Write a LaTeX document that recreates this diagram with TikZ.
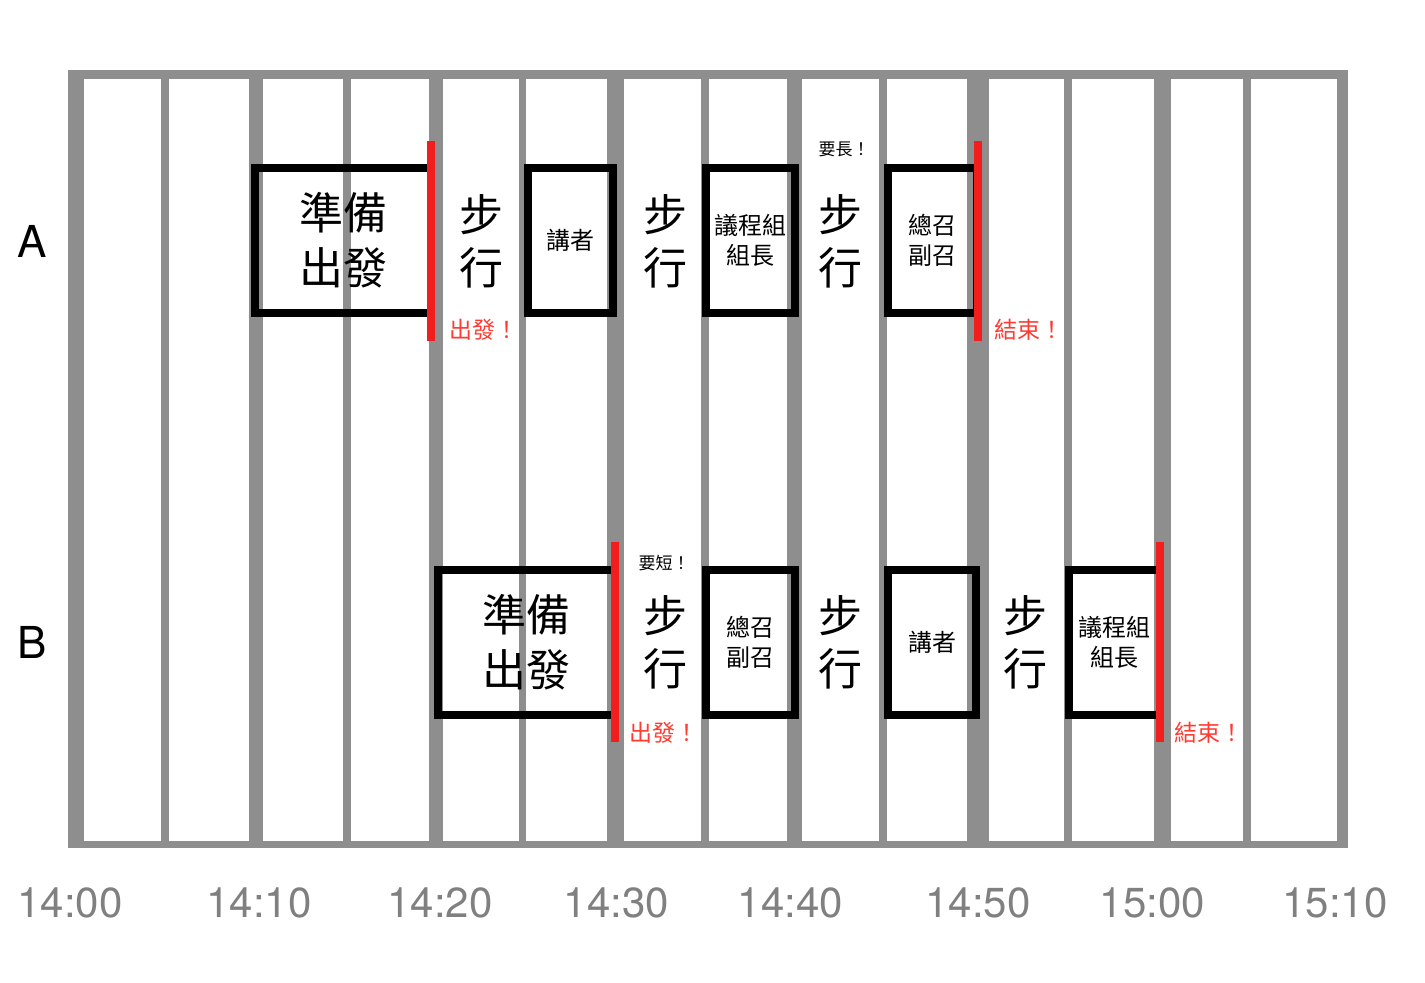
\documentclass[tikz,border=0pt]{standalone}
\usepackage{fontspec}
\setmainfont{TeX Gyre Heros}
\newfontfamily\cjk{Noto Sans CJK TC}
\usepackage{xcolor}
\usepackage{tikz}
\usetikzlibrary{positioning}
\definecolor{gridgray}{RGB}{142,142,142}
\definecolor{timegray}{RGB}{128,128,128}
\definecolor{flagred}{RGB}{242,30,30}
\definecolor{notered}{RGB}{255,58,48}

\begin{document}
\begin{tikzpicture}[x=1pt, y=-1pt,
  task/.style={draw, line width=8pt, inner sep=0pt, minimum height=145pt, align=center,
    font=\cjk\fontsize{24}{30}\selectfont},
  bigtask/.style={task, font=\cjk\fontsize{44}{55}\selectfont},
  walk/.style={align=center, inner sep=0pt, font=\cjk\fontsize{44}{53}\selectfont},
  memo/.style={inner sep=0pt, font=\cjk\fontsize{17}{17}\selectfont},
  flag/.style={inner sep=0pt, anchor=west, text=notered, font=\cjk\fontsize{23}{23}\selectfont},
  rowname/.style={inner sep=0pt, font=\fontsize{44}{44}\selectfont},
  clock/.style={inner sep=0pt, text=timegray, font=\fontsize{42}{42}\selectfont}]
  \useasboundingbox (0,0) rectangle (1425,983);

  % time grid
  \fill[gridgray] (68,70) rectangle (1348,848);
  \foreach \a/\b in {84/160.7, 169/249, 263.3/342.7, 350.7/429.3, 443.3/519.3,
                     526/607.3, 624/700.7, 709/786.7, 802.3/879, 886.7/966.7,
                     989.3/1064, 1072.3/1154, 1170.7/1242.7, 1250.7/1337.3} {
    \fill[white] (\a,79) rectangle (\b,841);
  }

  % row names
  \node[rowname] (rowA) at (32,241) {A};
  \node[rowname] (rowB) at (32,642) {B};

  % row A
  \node[bigtask, minimum width=176pt] (prepA) at (343,240.5) {準備\\出發};
  \node[walk] (walkA1) at (481,241) {步\\行};
  \node[task, minimum width=85pt] (talkA) at (570.5,240.5) {講者};
  \node[walk] (walkA2) at (665,241) {步\\行};
  \node[task, minimum width=89pt] (chairA) at (750.5,240.5) {議程組\\組長};
  \node[walk] (walkA3) at (840,241) {步\\行};
  \node[task, minimum width=89pt] (chiefA) at (932.5,240.5) {總召\\副召};
  \node[memo] (longA) at (844,149) {要長！};
  \draw[flagred, line width=8pt] (431,141) -- (431,341);
  \draw[flagred, line width=8pt] (977.5,141) -- (977.5,341);
  \node[flag] (goA) at (449,330) {出發！};
  \node[flag] (endA) at (994,330) {結束！};

  % row B
  \node[bigtask, minimum width=177pt] (prepB) at (526.5,642.5) {準備\\出發};
  \node[walk] (walkB1) at (665,642) {步\\行};
  \node[task, minimum width=89pt] (chiefB) at (750.5,642.5) {總召\\副召};
  \node[walk] (walkB2) at (840,642) {步\\行};
  \node[task, minimum width=88pt] (talkB) at (932,642.5) {講者};
  \node[walk] (walkB3) at (1025,642) {步\\行};
  \node[task, minimum width=91pt] (chairB) at (1114.5,642.5) {議程組\\組長};
  \node[memo] (shortB) at (664,563) {要短！};
  \draw[flagred, line width=8pt] (615,542) -- (615,742);
  \draw[flagred, line width=8pt] (1160,542) -- (1160,742);
  \node[flag] (goB) at (629,733) {出發！};
  \node[flag] (endB) at (1174,733) {結束！};

  % time labels
  \foreach \t/\x in {14:00/70, 14:10/259, 14:20/440, 14:30/616.5,
                     14:40/790.5, 14:50/978, 15:00/1152.5, 15:10/1335} {
    \node[clock] (time\x) at (\x,903) {\t};
  }
\end{tikzpicture}
\end{document}
